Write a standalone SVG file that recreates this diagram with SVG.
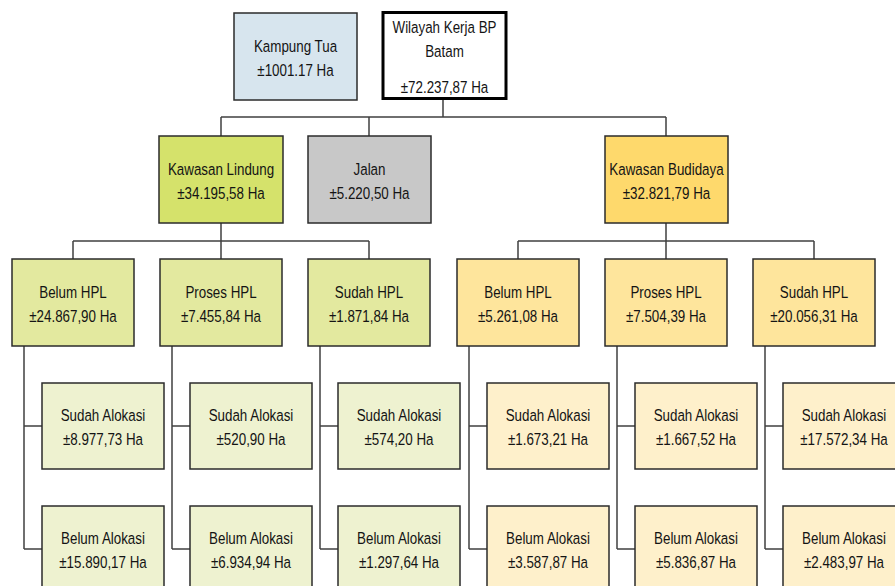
<svg xmlns="http://www.w3.org/2000/svg" width="895" height="586" viewBox="0 0 895 586">
<style>
.b{stroke:#2b2b2b;stroke-width:1.5}
.t{font-family:"Liberation Sans",Arial,sans-serif;font-size:16.5px;fill:#141414;text-anchor:middle}
.c{fill:none;stroke:#404040;stroke-width:1.5}
.kt{fill:#d7e5ee}
.l1{fill:#d5e26b}
.jl{fill:#c8c8c8}
.b1{fill:#fed96c}
.l2{fill:#e3e99f}
.l3{fill:#eef2d0}
.b2{fill:#fee59c}
.b3{fill:#fef0cb}
</style>
<rect width="895" height="586" fill="#fff"/>
<g id="connectors">
<path class="c" d="M443 99V117M221 117H666M221 117V136M369 117V136M666 117V136"/>
<path class="c" d="M221 223V241M73 241H369M73 241V259M221 241V259M369 241V259"/>
<path class="c" d="M666 223V241M518 241H814M518 241V259M666 241V259M814 241V259"/>
<path class="c" d="M24 346V549M24 426H42M24 549H42"/>
<path class="c" d="M172 346V549M172 426H190M172 549H190"/>
<path class="c" d="M320 346V549M320 426H338M320 549H338"/>
<path class="c" d="M469 346V549M469 426H487M469 549H487"/>
<path class="c" d="M617 346V549M617 426H635M617 549H635"/>
<path class="c" d="M765 346V549M765 426H783M765 549H783"/>
</g>
<g id="kampung-tua"><rect class="b kt" x="234" y="13" width="123" height="87"/><text class="t" transform="translate(295.5 51.5) scale(.81 1)">Kampung Tua</text><text class="t" transform="translate(295.5 75.5) scale(.81 1)">±1001.17 Ha</text></g>
<g id="wilayah"><rect x="383" y="12.5" width="123" height="86" fill="#fff" stroke="#000" stroke-width="3"/><text class="t" transform="translate(444.5 33) scale(.81 1)">Wilayah Kerja BP</text><text class="t" transform="translate(444.5 57) scale(.81 1)">Batam</text><text class="t" transform="translate(444.5 93) scale(.81 1)">±72.237,87 Ha</text></g>
<g id="kawasan-lindung"><rect class="b l1" x="159" y="136" width="124" height="87"/><text class="t" transform="translate(221 174.5) scale(.81 1)">Kawasan Lindung</text><text class="t" transform="translate(221 198.5) scale(.81 1)">±34.195,58 Ha</text></g>
<g id="jalan"><rect class="b jl" x="308" y="136" width="123" height="87"/><text class="t" transform="translate(369.5 174.5) scale(.81 1)">Jalan</text><text class="t" transform="translate(369.5 198.5) scale(.81 1)">±5.220,50 Ha</text></g>
<g id="kawasan-budidaya"><rect class="b b1" x="605" y="136" width="123" height="87"/><text class="t" transform="translate(666.5 174.5) scale(.81 1)">Kawasan Budidaya</text><text class="t" transform="translate(666.5 198.5) scale(.81 1)">±32.821,79 Ha</text></g>
<g id="l-belum-hpl"><rect class="b l2" x="12" y="259" width="122" height="87"/><text class="t" transform="translate(73 297.5) scale(.81 1)">Belum HPL</text><text class="t" transform="translate(73 321.5) scale(.81 1)">±24.867,90 Ha</text></g>
<g id="l-proses-hpl"><rect class="b l2" x="160" y="259" width="122" height="87"/><text class="t" transform="translate(221 297.5) scale(.81 1)">Proses HPL</text><text class="t" transform="translate(221 321.5) scale(.81 1)">±7.455,84 Ha</text></g>
<g id="l-sudah-hpl"><rect class="b l2" x="308" y="259" width="122" height="87"/><text class="t" transform="translate(369 297.5) scale(.81 1)">Sudah HPL</text><text class="t" transform="translate(369 321.5) scale(.81 1)">±1.871,84 Ha</text></g>
<g id="b-belum-hpl"><rect class="b b2" x="457" y="259" width="122" height="87"/><text class="t" transform="translate(518 297.5) scale(.81 1)">Belum HPL</text><text class="t" transform="translate(518 321.5) scale(.81 1)">±5.261,08 Ha</text></g>
<g id="b-proses-hpl"><rect class="b b2" x="605" y="259" width="122" height="87"/><text class="t" transform="translate(666 297.5) scale(.81 1)">Proses HPL</text><text class="t" transform="translate(666 321.5) scale(.81 1)">±7.504,39 Ha</text></g>
<g id="b-sudah-hpl"><rect class="b b2" x="753" y="259" width="122" height="87"/><text class="t" transform="translate(814 297.5) scale(.81 1)">Sudah HPL</text><text class="t" transform="translate(814 321.5) scale(.81 1)">±20.056,31 Ha</text></g>
<g id="l1-sudah"><rect class="b l3" x="42" y="383" width="122" height="86"/><text class="t" transform="translate(103 420.5) scale(.81 1)">Sudah Alokasi</text><text class="t" transform="translate(103 444.5) scale(.81 1)">±8.977,73 Ha</text></g>
<g id="l1-belum"><rect class="b l3" x="42" y="506" width="122" height="86"/><text class="t" transform="translate(103 543.5) scale(.81 1)">Belum Alokasi</text><text class="t" transform="translate(103 567.5) scale(.81 1)">±15.890,17 Ha</text></g>
<g id="l2-sudah"><rect class="b l3" x="190" y="383" width="122" height="86"/><text class="t" transform="translate(251 420.5) scale(.81 1)">Sudah Alokasi</text><text class="t" transform="translate(251 444.5) scale(.81 1)">±520,90 Ha</text></g>
<g id="l2-belum"><rect class="b l3" x="190" y="506" width="122" height="86"/><text class="t" transform="translate(251 543.5) scale(.81 1)">Belum Alokasi</text><text class="t" transform="translate(251 567.5) scale(.81 1)">±6.934,94 Ha</text></g>
<g id="l3-sudah"><rect class="b l3" x="338" y="383" width="122" height="86"/><text class="t" transform="translate(399 420.5) scale(.81 1)">Sudah Alokasi</text><text class="t" transform="translate(399 444.5) scale(.81 1)">±574,20 Ha</text></g>
<g id="l3-belum"><rect class="b l3" x="338" y="506" width="122" height="86"/><text class="t" transform="translate(399 543.5) scale(.81 1)">Belum Alokasi</text><text class="t" transform="translate(399 567.5) scale(.81 1)">±1.297,64 Ha</text></g>
<g id="b1-sudah"><rect class="b b3" x="487" y="383" width="122" height="86"/><text class="t" transform="translate(548 420.5) scale(.81 1)">Sudah Alokasi</text><text class="t" transform="translate(548 444.5) scale(.81 1)">±1.673,21 Ha</text></g>
<g id="b1-belum"><rect class="b b3" x="487" y="506" width="122" height="86"/><text class="t" transform="translate(548 543.5) scale(.81 1)">Belum Alokasi</text><text class="t" transform="translate(548 567.5) scale(.81 1)">±3.587,87 Ha</text></g>
<g id="b2-sudah"><rect class="b b3" x="635" y="383" width="122" height="86"/><text class="t" transform="translate(696 420.5) scale(.81 1)">Sudah Alokasi</text><text class="t" transform="translate(696 444.5) scale(.81 1)">±1.667,52 Ha</text></g>
<g id="b2-belum"><rect class="b b3" x="635" y="506" width="122" height="86"/><text class="t" transform="translate(696 543.5) scale(.81 1)">Belum Alokasi</text><text class="t" transform="translate(696 567.5) scale(.81 1)">±5.836,87 Ha</text></g>
<g id="b3-sudah"><rect class="b b3" x="783" y="383" width="122" height="86"/><text class="t" transform="translate(844 420.5) scale(.81 1)">Sudah Alokasi</text><text class="t" transform="translate(844 444.5) scale(.81 1)">±17.572,34 Ha</text></g>
<g id="b3-belum"><rect class="b b3" x="783" y="506" width="122" height="86"/><text class="t" transform="translate(844 543.5) scale(.81 1)">Belum Alokasi</text><text class="t" transform="translate(844 567.5) scale(.81 1)">±2.483,97 Ha</text></g>
</svg>
